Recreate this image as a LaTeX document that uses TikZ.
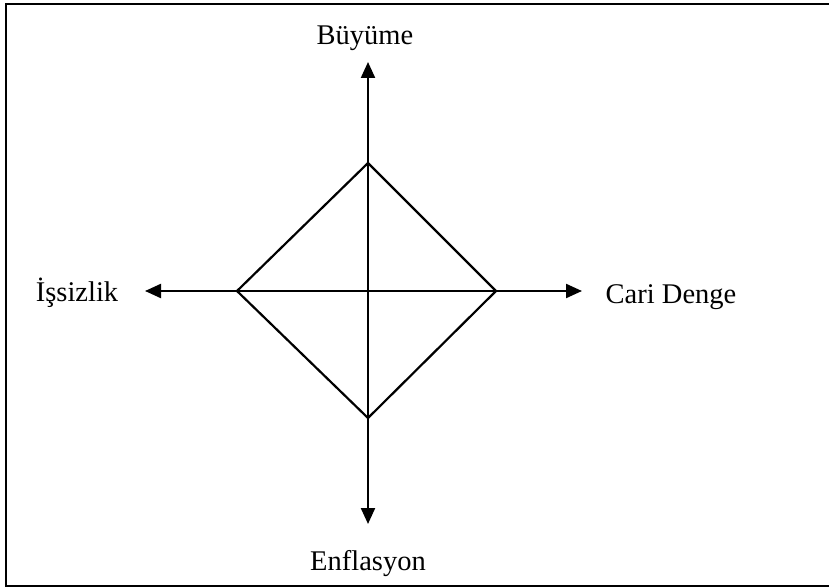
\documentclass[tikz,border=0pt]{standalone}
\usepackage{fontspec}
\setmainfont{Liberation Serif}
\usepackage{tikz}
\usetikzlibrary{arrows.meta}
\tikzset{axis/.style={black, line width=2.2pt, -{Triangle[length=16pt,width=14pt]}},
         edge/.style={black, line width=2.2pt},
         lbl/.style={font=\fontsize{28.5}{30}\selectfont, inner sep=0pt, anchor=base}}

\begin{document}
\begin{tikzpicture}[x=1pt, y=-1pt]
\clip (0,0) rectangle (829,588);
\draw[black, line width=2.2pt] (6,4) rectangle (840,586);
% diamond corners
\coordinate (top) at (368,163);
\coordinate (right) at (496,291);
\coordinate (bottom) at (368,418);
\coordinate (left) at (237,291);
% arrow tips
\coordinate (up) at (368,62);
\coordinate (down) at (368,524);
\coordinate (west) at (145,291);
\coordinate (east) at (582,291);
\draw[axis] (top) -- (up);
\draw[axis] (top) -- (down);
\draw[axis] (left) -- (west);
\draw[axis] (left) -- (east);
\draw[edge] (top) -- (right) -- (bottom) -- (left) -- cycle;
\node[lbl] (buyume) at (365,45) {Büyüme};
\node[lbl] (issizlik) at (77,301) {İşsizlik};
\node[lbl] (cari) at (671,303) {Cari Denge};
\node[lbl] (enflasyon) at (368,570) {Enflasyon};
\end{tikzpicture}
\end{document}
